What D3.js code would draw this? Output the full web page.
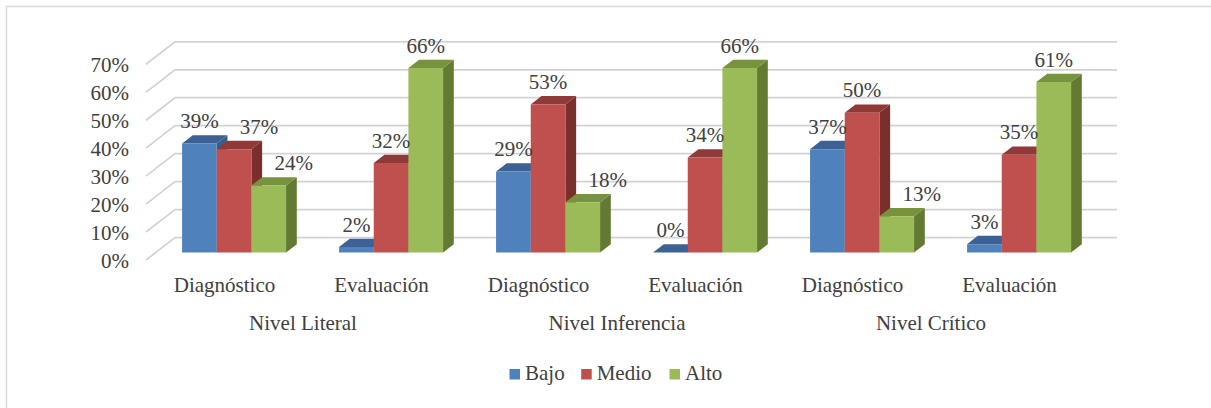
<!DOCTYPE html>
<html>
<head>
<meta charset="utf-8">
<script src="https://cdn.jsdelivr.net/npm/d3@7"></script>
</head>
<body style="margin:0">
<script>
var subCategories = ['Diagnóstico', 'Evaluación', 'Diagnóstico', 'Evaluación', 'Diagnóstico', 'Evaluación'];
var levels = ['Nivel Literal', 'Nivel Inferencia', 'Nivel Crítico'];
var seriesNames = ['Bajo', 'Medio', 'Alto'];
var bajo = [0.39, 0.02, 0.29, 0.00, 0.37, 0.03];
var medio = [0.37, 0.32, 0.53, 0.34, 0.50, 0.35];
var alto = [0.24, 0.66, 0.18, 0.66, 0.13, 0.61];
var yTicks = [0, 0.1, 0.2, 0.3, 0.4, 0.5, 0.6, 0.7];

var width = 1211;
var height = 408;
var depthX = 29;     // full depth of the 3d box, screen offset
var depthY = 22.5;
var barFront = 0.33; // bar depth range inside the box
var barBack = 0.70;

var palette = {
    Bajo:  {front: '#4f81bd', top: '#3c6194', side: '#385d8a'},
    Medio: {front: '#c0504d', top: '#8f3a38', side: '#7b2f2d'},
    Alto:  {front: '#9bbb59', top: '#77933c', side: '#637a32'}
};

var values = [bajo, medio, alto];

var svg = d3.select('body').append('svg')
    .attr('width', width)
    .attr('height', height)
    .attr('font-family', 'Liberation Serif');

svg.append('rect')
    .attr('width', width)
    .attr('height', height)
    .attr('fill', '#fff');

// chart frame, only top and left edges fall inside the picture
svg.append('path')
    .attr('d', 'M6.5,' + height + 'V6.5H' + width)
    .attr('fill', 'none')
    .attr('stroke', '#d9d9d9')
    .attr('stroke-width', 1.5);

var x0 = d3.scaleBand()
    .domain(d3.range(subCategories.length))
    .range([146, 1088])
    .paddingInner(0.3376)
    .paddingOuter(0.1688);

var x1 = d3.scaleBand()
    .domain(seriesNames)
    .range([0, x0.bandwidth()]);

var y = d3.scaleLinear()
    .domain([0, 0.7])
    .range([260, 64.3]);

/**
 * Project a point of the 3d box onto the screen.
 */
function proj(x, v, d) {
    return [x + d * depthX, y(v) - d * depthY];
}

function poly(points) {
    return 'M' + points.map(function (p) { return p.join(','); }).join('L') + 'Z';
}

function label(selection) {
    selection
        .style('font-family', '"Liberation Serif"')
        .style('font-size', '21px')
        .style('fill', '#404040');
}

// gridlines: side wall diagonals and back wall lines
var grid = svg.append('g').attr('class', 'grid');
var left = x0.range()[0];
var right = x0.range()[1];

grid.selectAll('path')
    .data(yTicks)
    .enter().append('path')
    .attr('d', function (t) {
        var a = proj(left, t, 0);
        var b = proj(left, t, 1);
        var c = proj(right, t, 1);
        return 'M' + a.join(',') + 'L' + b.join(',') + 'L' + c.join(',');
    })
    .attr('fill', 'none')
    .attr('stroke', '#d3d3d3')
    .attr('stroke-width', 1.75);

svg.append('g').attr('class', 'y axis')
    .selectAll('text')
    .data(yTicks)
    .enter().append('text')
    .attr('x', 129)
    .attr('y', function (t) { return y(t) + 8; })
    .attr('text-anchor', 'end')
    .call(label)
    .text(d3.format('.0%'));

// bars, drawn left to right so each front covers the previous side
var bars = svg.append('g').attr('class', 'bars');
var labels = svg.append('g').attr('class', 'labels');

subCategories.forEach(function (cat, i) {
    seriesNames.forEach(function (name, s) {
        var v = values[s][i];
        var xl = x0(i) + x1(name);
        var xr = xl + x1.bandwidth();
        var col = palette[name];
        var g = bars.append('g');

        g.append('path')
            .attr('d', poly([proj(xr, v, barFront), proj(xr, 0, barFront),
                proj(xr, 0, barBack), proj(xr, v, barBack)]))
            .attr('fill', col.side);

        g.append('path')
            .attr('d', poly([proj(xl, v, barFront), proj(xr, v, barFront),
                proj(xr, v, barBack), proj(xl, v, barBack)]))
            .attr('fill', col.top);

        g.append('path')
            .attr('d', poly([proj(xl, v, barFront), proj(xr, v, barFront),
                proj(xr, 0, barFront), proj(xl, 0, barFront)]))
            .attr('fill', col.front);

        // labels that would sit on the taller neighbour are pushed right
        var shift = (s > 0 && values[s - 1][i] > v) ? 25 : 0;
        var p = proj((xl + xr) / 2, v, barBack);
        labels.append('text')
            .attr('x', (xl + xr) / 2 + barFront * depthX + shift)
            .attr('y', p[1] - 7)
            .attr('text-anchor', 'middle')
            .call(label)
            .text(d3.format('.0%')(v));
    });
});

// category axis
svg.append('g').attr('class', 'x axis')
    .selectAll('text')
    .data(subCategories)
    .enter().append('text')
    .attr('x', function (d, i) { return x0(i) + x0.bandwidth() / 2; })
    .attr('y', 292)
    .attr('text-anchor', 'middle')
    .call(label)
    .text(function (d) { return d; });

svg.append('g').attr('class', 'x axis levels')
    .selectAll('text')
    .data(levels)
    .enter().append('text')
    .attr('x', function (d, i) {
        return (x0(i * 2) + x0(i * 2 + 1) + x0.bandwidth()) / 2;
    })
    .attr('y', 330)
    .attr('text-anchor', 'middle')
    .call(label)
    .text(function (d) { return d; });

// legend under the plot
var legendOffsets = [0, 71.7, 160];
var legend = svg.append('g')
    .attr('class', 'legend')
    .attr('transform', 'translate(509.5,379.5)');

var item = legend.selectAll('g')
    .data(seriesNames)
    .enter().append('g')
    .attr('transform', function (d, i) { return 'translate(' + legendOffsets[i] + ',0)'; });

item.append('rect')
    .attr('y', -10.5)
    .attr('width', 10.5)
    .attr('height', 10.5)
    .attr('fill', function (d) { return palette[d].front; });

item.append('text')
    .attr('x', 15.5)
    .call(label)
    .text(function (d) { return d; });
</script>
</body>
</html>
